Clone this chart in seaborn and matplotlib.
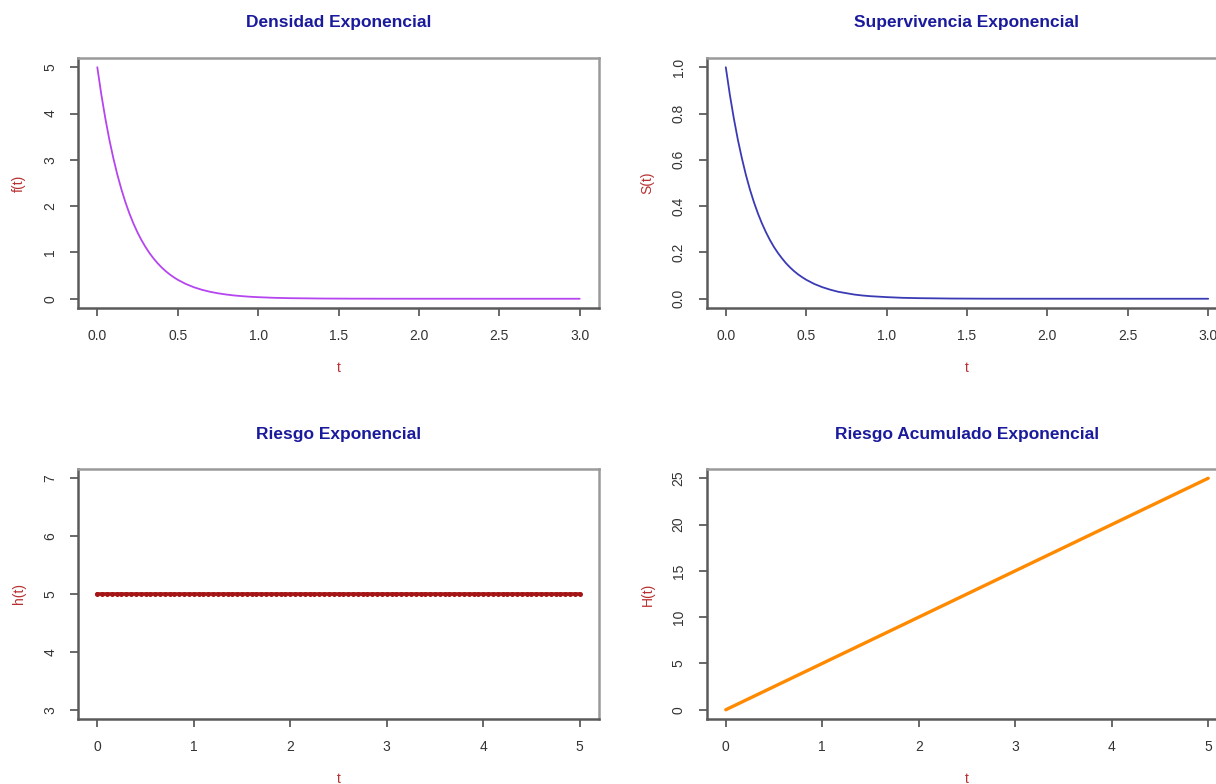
import numpy as np
import pandas as pd
import matplotlib
matplotlib.use("Agg")
import matplotlib.pyplot as plt
import seaborn as sns

# Exponential model (rate 5): density, survival, hazard and cumulative hazard
t_curve = [0.000, 0.025, 0.050, 0.075, 0.100, 0.125, 0.150, 0.175, 0.200, 0.225,
           0.250, 0.275, 0.300, 0.325, 0.350, 0.375, 0.400, 0.425, 0.450, 0.475,
           0.500, 0.55, 0.60, 0.65, 0.70, 0.75, 0.80, 0.85, 0.90, 0.95, 1.00,
           1.10, 1.20, 1.40, 1.60, 1.80, 2.00, 2.50, 3.00]
f_vals = [5.000, 4.412, 3.894, 3.436, 3.033, 2.676, 2.362, 2.084, 1.839, 1.623,
          1.433, 1.264, 1.116, 0.985, 0.869, 0.767, 0.677, 0.597, 0.527, 0.465,
          0.410, 0.320, 0.249, 0.194, 0.151, 0.118, 0.092, 0.071, 0.056, 0.043, 0.034,
          0.020, 0.012, 0.0045, 0.0017, 0.0006, 0.0002, 0.0, 0.0]
s_vals = [1.000, 0.882, 0.779, 0.687, 0.607, 0.535, 0.472, 0.417, 0.368, 0.325,
          0.287, 0.253, 0.223, 0.197, 0.174, 0.153, 0.135, 0.119, 0.105, 0.093,
          0.082, 0.064, 0.050, 0.039, 0.030, 0.024, 0.018, 0.014, 0.011, 0.009, 0.007,
          0.004, 0.0025, 0.0009, 0.0003, 0.0001, 0.00005, 0.0, 0.0]

t_hazard = np.round(np.arange(0, 5.0001, 0.05), 2)
h_vals = np.full(t_hazard.size, 5.0)

t_cum = [0, 1, 2, 3, 4, 5]
cumh_vals = [0, 5, 10, 15, 20, 25]

x_ticks_top = [0.0, 0.5, 1.0, 1.5, 2.0, 2.5, 3.0]
x_ticks_bottom = [0, 1, 2, 3, 4, 5]

sns.set_theme(style="white")
plt.rcParams["font.family"] = ["Liberation Sans", "DejaVu Sans"]

W, H = 1216, 784
fig = plt.figure(figsize=(W / 100, H / 100), dpi=100)

col_x = [78 / W, 706.5 / W]
ax_w = 521 / W
row_y = [1 - 308 / H, 1 - 719 / H]
ax_h = 250 / H

TITLE_C = "#1a1a9c"
LABEL_C = "#b83030"
TICK_C = "#333333"


def style_axes(ax, title, ylabel, xlim, ylim, xticks, yticks, xfmt, yfmt):
    ax.set_xlim(*xlim)
    ax.set_ylim(*ylim)
    ax.set_xticks(xticks)
    ax.set_yticks(yticks)
    ax.set_xticklabels([xfmt(v) for v in xticks])
    ax.set_yticklabels([yfmt(v) for v in yticks], rotation=90, va="center")
    ax.tick_params(axis="both", direction="out", length=6, width=1.1,
                   color="#404040", labelcolor=TICK_C, labelsize=10,
                   bottom=True, left=True)
    ax.tick_params(axis="x", pad=9)
    ax.tick_params(axis="y", pad=9)
    for side in ("left", "bottom"):
        ax.spines[side].set_color("#5a5a5a")
        ax.spines[side].set_linewidth(1.8)
    for side in ("top", "right"):
        ax.spines[side].set_color("#9a9a9a")
        ax.spines[side].set_linewidth(1.8)
    ax.set_xlabel("")
    ax.set_ylabel("")
    ax.annotate(title, xy=(0.5, 1), xycoords="axes fraction",
                xytext=(0, 35 * 0.72), textcoords="offset points",
                ha="center", va="center", fontsize=12.5, fontweight="bold",
                color=TITLE_C)
    ax.annotate("t", xy=(0.5, 0), xycoords="axes fraction",
                xytext=(0, -60 * 0.72), textcoords="offset points",
                ha="center", va="center", fontsize=10, color=LABEL_C)
    ax.annotate(ylabel, xy=(0, 0.5), xycoords="axes fraction",
                xytext=(-59 * 0.72, 0), textcoords="offset points",
                ha="center", va="center", rotation=90, fontsize=10,
                color=LABEL_C)


fmt1 = lambda v: f"{v:.1f}"
fmt0 = lambda v: f"{v:g}"

# Density
ax1 = fig.add_axes([col_x[0], row_y[0], ax_w, ax_h])
df_f = pd.DataFrame({"t": t_curve, "f": f_vals})
sns.lineplot(data=df_f, x="t", y="f", ax=ax1, color="#b545ef", linewidth=1.3,
             sort=False, estimator=None, solid_joinstyle="round")
style_axes(ax1, "Densidad Exponencial", "f(t)", (-0.12, 3.12), (-0.2, 5.2),
           x_ticks_top, [0, 1, 2, 3, 4, 5], fmt1, fmt0)

# Survival
ax2 = fig.add_axes([col_x[1], row_y[0], ax_w, ax_h])
df_s = pd.DataFrame({"t": t_curve, "S": s_vals})
sns.lineplot(data=df_s, x="t", y="S", ax=ax2, color="#3a3ab5", linewidth=1.3,
             sort=False, estimator=None, solid_joinstyle="round")
style_axes(ax2, "Supervivencia Exponencial", "S(t)", (-0.12, 3.12), (-0.04, 1.04),
           x_ticks_top, [0.0, 0.2, 0.4, 0.6, 0.8, 1.0], fmt1, fmt1)

# Hazard
ax3 = fig.add_axes([col_x[0], row_y[1], ax_w, ax_h])
df_h = pd.DataFrame({"t": t_hazard, "h": h_vals})
sns.lineplot(data=df_h, x="t", y="h", ax=ax3, color="#a51515", linewidth=2.6,
             marker="o", markersize=3.6, markeredgewidth=0, sort=False,
             estimator=None)
style_axes(ax3, "Riesgo Exponencial", "h(t)", (-0.2, 5.2), (2.84, 7.16),
           x_ticks_bottom, [3, 4, 5, 6, 7], fmt0, fmt0)

# Cumulative hazard
ax4 = fig.add_axes([col_x[1], row_y[1], ax_w, ax_h])
df_c = pd.DataFrame({"t": t_cum, "H": cumh_vals})
sns.lineplot(data=df_c, x="t", y="H", ax=ax4, color="#ff8a00", linewidth=2.4,
             sort=False, estimator=None)
style_axes(ax4, "Riesgo Acumulado Exponencial", "H(t)", (-0.2, 5.2), (-1, 26),
           x_ticks_bottom, [0, 5, 10, 15, 20, 25], fmt0, fmt0)

fig.savefig("out.png", dpi=100, facecolor="white")
